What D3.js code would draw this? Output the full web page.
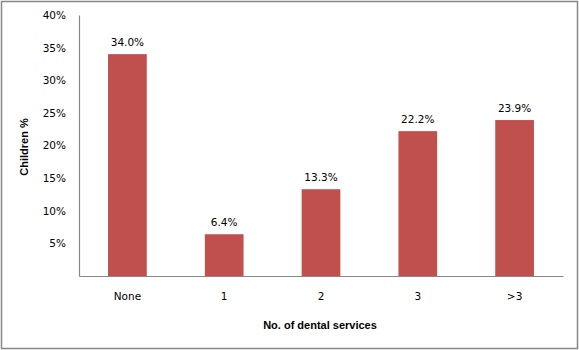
<!DOCTYPE html>
<html><head><meta charset="utf-8">
<script src="https://cdn.jsdelivr.net/npm/d3@7"></script>
<style>body{margin:0;background:#fff;} svg{display:block;}</style>
</head><body>
<script>
const categories = ["None", "1", "2", "3", ">3"];
const values = [34.0, 6.4, 13.3, 22.2, 23.9];
const yTicks = [5, 10, 15, 20, 25, 30, 35, 40];

const W = 579, H = 350;
const m = {left: 79, right: 16, top: 15, bottom: 74};
const svg = d3.select("body").append("svg").attr("width", W).attr("height", H);
svg.append("rect").attr("x", 1.5).attr("y", 1.5).attr("width", W - 3).attr("height", H - 3)
  .attr("fill", "#fff").attr("stroke", "#878787").attr("stroke-width", 1.5);

const x = d3.scaleBand().domain(categories).range([m.left, W - m.right]).paddingInner(0.6).paddingOuter(0.3);
const y = d3.scaleLinear().domain([0, 40]).range([H - m.bottom, m.top]);

const tickFont = "DejaVu Sans, Verdana, sans-serif";
// y axis
const yAxis = svg.append("g").attr("transform", `translate(${m.left},0)`)
  .call(d3.axisLeft(y).tickValues(yTicks).tickSize(0).tickPadding(13).tickFormat(d => d + "%"));
yAxis.select(".domain").attr("stroke", "#878787").attr("stroke-width", 1.2);
yAxis.selectAll("text").attr("font-family", tickFont).attr("font-size", "10.5px").attr("fill", "#000");

// bars
svg.selectAll("rect.bar").data(values).enter().append("rect").attr("class", "bar")
  .attr("x", (d, i) => x(categories[i])).attr("width", x.bandwidth())
  .attr("y", d => y(d)).attr("height", d => y(0) - y(d)).attr("fill", "#C0504D");

// value labels
svg.selectAll("text.val").data(values).enter().append("text").attr("class", "val")
  .attr("x", (d, i) => x(categories[i]) + x.bandwidth() / 2).attr("y", d => y(d) - 8)
  .attr("text-anchor", "middle").attr("font-family", tickFont).attr("font-size", "10.5px")
  .text(d => d.toFixed(1) + "%");

// x axis
const xAxis = svg.append("g").attr("transform", `translate(0,${y(0)})`)
  .call(d3.axisBottom(x).tickSize(0).tickPadding(17).tickSizeOuter(0));
xAxis.select(".domain").attr("stroke", "#878787").attr("stroke-width", 1.2);
xAxis.selectAll("text").attr("font-family", tickFont).attr("font-size", "10.5px").attr("fill", "#000");

// titles
svg.append("text").attr("x", 320).attr("y", 329).attr("text-anchor", "middle")
  .attr("font-family", "Liberation Sans, Arial, sans-serif").attr("font-weight", "bold").attr("font-size", "11px")
  .text("No. of dental services");
svg.append("text").attr("transform", "translate(28,147) rotate(-90)").attr("text-anchor", "middle")
  .attr("font-family", "Liberation Sans, Arial, sans-serif").attr("font-weight", "bold").attr("font-size", "11px")
  .text("Children %");
</script>
</body></html>
